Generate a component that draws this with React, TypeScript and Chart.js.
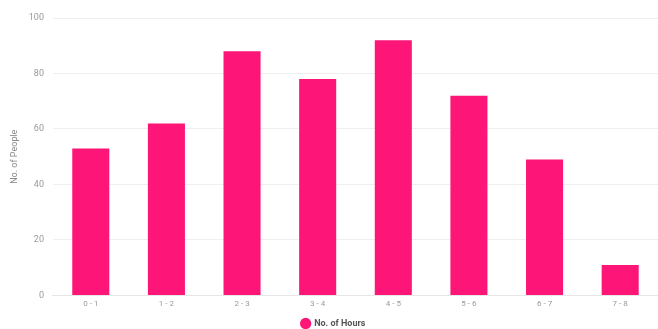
import React, { useEffect, useRef } from "react";
import { Chart, registerables } from "chart.js";

Chart.register(...registerables);

const categories = ["0 - 1", "1 - 2", "2 - 3", "3 - 4", "4 - 5", "5 - 6", "6 - 7", "7 - 8"];
const people = [53, 62, 88, 78, 92, 72, 49, 11];
const seriesLabel = "No. of Hours";
const yTitle = "No. of People";

export default function App() {
  const ref = useRef<HTMLCanvasElement | null>(null);
  useEffect(() => {
    document.body.style.margin = "0";
    const ctx = ref.current!;
    const chart = new Chart(ctx, {
      type: "bar",
      data: {
        labels: categories,
        datasets: [
          {
            label: seriesLabel,
            data: people,
            backgroundColor: "#fd1677",
            borderWidth: 0,
            categoryPercentage: 1,
            barPercentage: 0.49,
          },
        ],
      },
      options: {
        animation: false,
        responsive: false,
        maintainAspectRatio: false,
        layout: { padding: { top: 18, left: 9, right: 0, bottom: -9 } },
        plugins: {
          legend: {
            position: "bottom",
            labels: {
              usePointStyle: true,
              pointStyle: "circle",
              boxWidth: 8,
              boxHeight: 8,
              padding: 6,
              color: "#555",
              font: { family: "Roboto", size: 9, weight: "bold" },
            },
          },
          tooltip: { enabled: false },
        },
        scales: {
          x: {
            grid: { display: false, drawTicks: false },
            border: { color: "#e6e6e6" },
            ticks: { color: "#999", font: { family: "Roboto", size: 8 }, padding: 4 },
          },
          y: {
            min: 0,
            max: 100,
            ticks: { stepSize: 20, color: "#999", font: { family: "Roboto", size: 9 }, padding: 9 },
            grid: { color: "#efefef", drawTicks: false },
            border: { display: false },
            title: {
              display: true,
              text: yTitle,
              color: "#888",
              font: { family: "Roboto", size: 9 },
              padding: { top: 0, bottom: 0 },
            },
          },
        },
      },
    });
    return () => chart.destroy();
  }, []);
  return <canvas ref={ref} width={658} height={329} style={{ display: "block" }} />;
}
